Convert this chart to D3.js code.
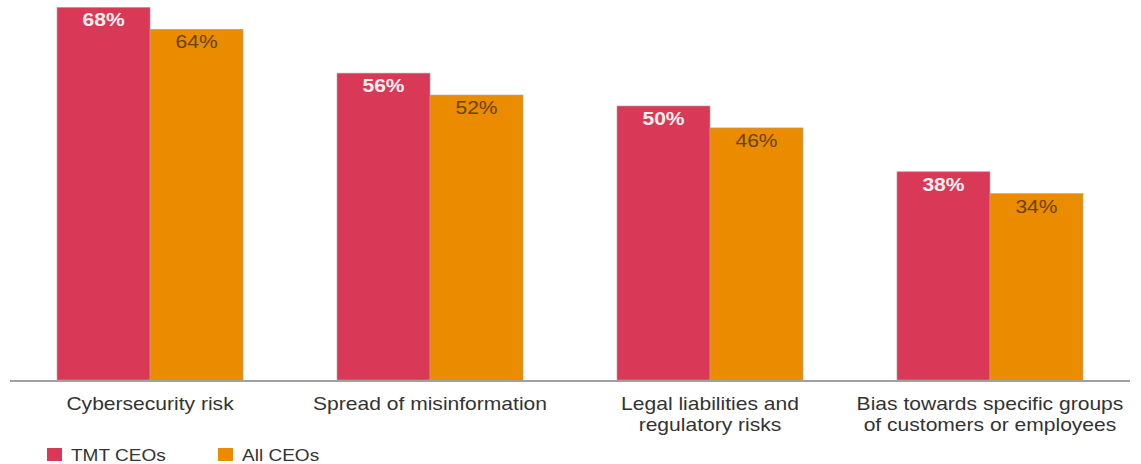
<!DOCTYPE html>
<html>
<head>
<meta charset="utf-8">
<script src="https://cdn.jsdelivr.net/npm/d3@7"></script>
<style>
  body { margin: 0; background: #fff; }
  text { font-family: "Liberation Sans", Arial, sans-serif; }
</style>
</head>
<body>
<script>
var categories = [["Cybersecurity risk"], ["Spread of misinformation"], ["Legal liabilities and", "regulatory risks"], ["Bias towards specific groups", "of customers or employees"]];
var seriesNames = ["TMT CEOs", "All CEOs"];
var tmtValues = [68, 56, 50, 38];
var allValues = [64, 52, 46, 34];
var colors = ["#d93956", "#ea8b00"];

var width = 1141, height = 464;
var baseY = 380;
var stretch = 1.17; // text in the source is a little wide

var svg = d3.select("body").append("svg")
    .attr("width", width)
    .attr("height", height);

var x0 = d3.scaleBand()
    .domain(d3.range(categories.length))
    .range([10, 1130])
    .paddingInner(0.3357)
    .paddingOuter(0.168);

var x1 = d3.scaleBand()
    .domain([0, 1])
    .range([0, x0.bandwidth()]);

var y = d3.scaleLinear()
    .domain([0, 100])
    .range([baseY, baseY - 548]);

var data = [tmtValues, allValues];

// bars
data.forEach(function(vals, s) {
  svg.append("g").selectAll("rect")
    .data(vals)
    .enter().append("rect")
      .attr("x", function(d, i) { return x0(i) + x1(s); })
      .attr("y", function(d) { return y(d); })
      .attr("width", x1.bandwidth())
      .attr("height", function(d) { return baseY - y(d); })
      .attr("fill", colors[s])
      .attr("stroke", "#b0a0a0")
      .attr("stroke-width", 0.6);

  svg.append("g").selectAll("text")
    .data(vals)
    .enter().append("text")
      .attr("transform", function(d, i) {
        return "translate(" + (x0(i) + x1(s) + x1.bandwidth() / 2) + "," + (y(d) + 19) + ") scale(" + stretch + ",1)";
      })
      .attr("text-anchor", "middle")
      .attr("font-size", 18)
      .attr("font-weight", s == 0 ? "bold" : "normal")
      .attr("fill", s == 0 ? "#fbeef0" : "#6b4200")
      .text(function(d) { return d + "%"; });
});

// axis line
svg.append("line")
    .attr("x1", 10).attr("x2", 1130)
    .attr("y1", baseY + 1).attr("y2", baseY + 1)
    .attr("stroke", "#a0a0a0")
    .attr("stroke-width", 2);

// category labels
var lbl = svg.append("g").selectAll("text")
    .data(categories)
    .enter().append("text")
      .attr("transform", function(d, i) {
        return "translate(" + (x0(i) + x0.bandwidth() / 2) + ",410) scale(" + stretch + ",1)";
      })
      .attr("text-anchor", "middle")
      .attr("font-size", 18)
      .attr("fill", "#333");
lbl.selectAll("tspan")
    .data(function(d) { return d; })
    .enter().append("tspan")
      .attr("x", 0)
      .attr("dy", function(d, i) { return i ? 21 : 0; })
      .text(function(d) { return d; });

// legend
var legend = svg.append("g").selectAll("g")
    .data(seriesNames)
    .enter().append("g")
      .attr("transform", function(d, i) { return "translate(" + (47 + i * 171) + ",448)"; });
legend.append("rect")
    .attr("width", 15).attr("height", 13)
    .attr("fill", function(d, i) { return colors[i]; });
legend.append("text")
    .attr("transform", "translate(24,13) scale(1.12,1)")
    .attr("font-size", 17)
    .attr("fill", "#333")
    .text(function(d) { return d; });
</script>
</body>
</html>
